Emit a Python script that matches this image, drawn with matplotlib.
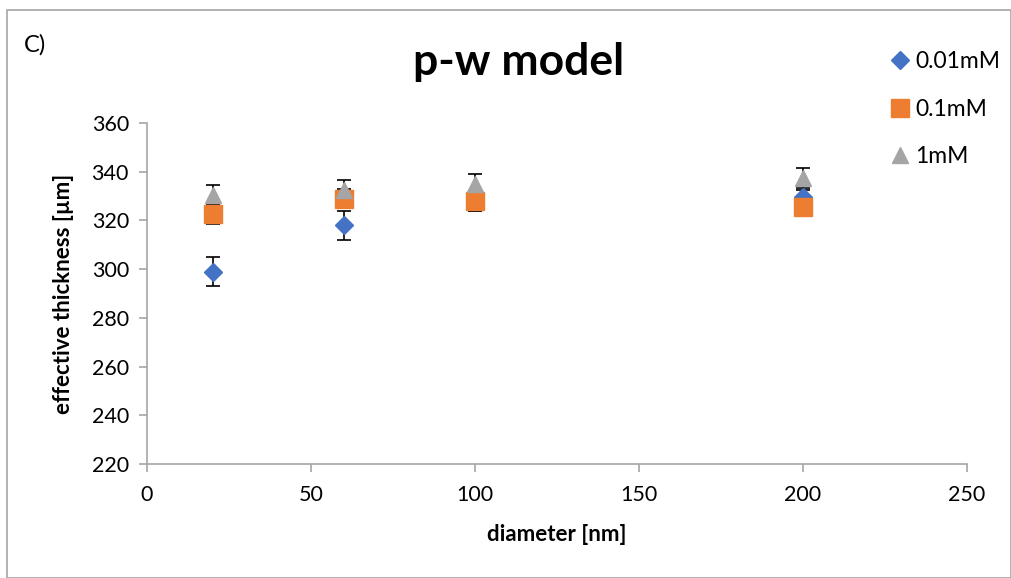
import matplotlib
matplotlib.use('Agg')
import matplotlib.pyplot as plt
from matplotlib.patches import Rectangle

plt.rcParams['font.family'] = ['Lato', 'DejaVu Sans']

# data
diameter = [20, 60, 100, 200]
series_names = ['0.01mM', '0.1mM', '1mM']
thick_001 = [299, 318, 328, 329.5]
err_001 = [6, 6, 4, 3]
thick_01 = [322.5, 329, 327.8, 325.5]
err_01 = [4, 4, 4, 3]
thick_1 = [330.5, 332.5, 335, 337.5]
err_1 = [4, 4, 4, 4]

colors = ['#4472C4', '#ED7D31', '#A5A5A5']
markers = ['D', 's', '^']
sizes = [9, 13, 12]

fig = plt.figure(figsize=(10.12, 5.78), dpi=100)
fig.patch.set_facecolor('white')
# outer chart frame
fig.add_artist(Rectangle((7 / 1012, 0.0), 1 - 8 / 1012, 1 - 10 / 578,
                         transform=fig.transFigure, fill=False,
                         edgecolor='#A6A6A6', linewidth=1.2))

ax = fig.add_axes([147 / 1012, 1 - 464 / 578, 820 / 1012, 341 / 578])

all_y = [thick_001, thick_01, thick_1]
all_e = [err_001, err_01, err_1]
for name, y, e, c, m, s in zip(series_names, all_y, all_e, colors, markers, sizes):
    ax.errorbar(diameter, y, yerr=e, fmt='none', ecolor='black',
                elinewidth=1.2, capsize=5, capthick=1.2, zorder=2)
    ax.plot(diameter, y, linestyle='none', marker=m, markersize=s,
            color=c, markeredgecolor=c, label=name, zorder=3)

ax.set_xlim(0, 250)
ax.set_ylim(220, 360)
ax.set_xticks([0, 50, 100, 150, 200, 250])
ax.set_yticks(range(220, 361, 20))
for sp in ['top', 'right']:
    ax.spines[sp].set_visible(False)
for sp in ['left', 'bottom']:
    ax.spines[sp].set_color('#A6A6A6')
    ax.spines[sp].set_linewidth(1.2)
ax.tick_params(colors='#A6A6A6', labelcolor='black', labelsize=15.5,
               length=6, width=1.2, direction='out')
ax.tick_params(axis='x', pad=9)
ax.tick_params(axis='y', pad=7)

ax.set_xlabel('diameter [nm]', fontsize=16, fontweight='bold', labelpad=14)
ax.set_ylabel('effective thickness [\u00b5m]', fontsize=16, fontweight='bold',
              labelpad=13)

fig.text(519 / 1012, 1 - 62 / 578, 'p-w model', ha='center', va='center',
         fontsize=32, fontweight='bold')
fig.text(24 / 1012, 1 - 45 / 578, 'C)', ha='left', va='center', fontsize=17)

ax.legend(loc='upper left', bbox_to_anchor=(876 / 1012, 1 - 42 / 578),
          bbox_transform=fig.transFigure, frameon=False, fontsize=16.5,
          handletextpad=0.0, labelspacing=1.15, handlelength=1.3,
          borderaxespad=0)

plt.savefig('out.png', dpi=100, facecolor='white')
